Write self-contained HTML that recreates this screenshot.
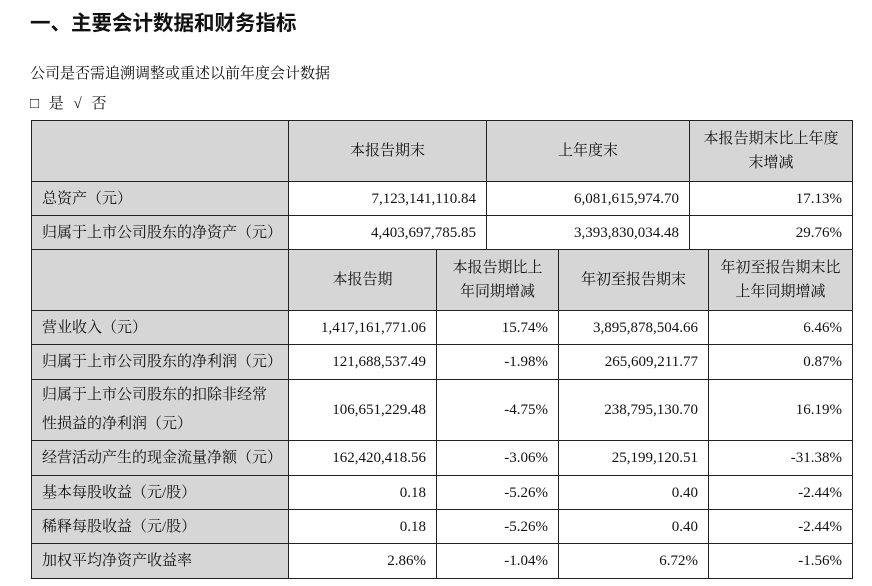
<!DOCTYPE html>
<html><head><meta charset="utf-8"><style>
body{margin:0;width:872px;height:586px;background:#fff;position:relative;overflow:hidden;font-family:"Liberation Serif","Noto Serif CJK SC",serif;color:#111}
.t{position:absolute;white-space:nowrap}
.c{position:absolute;box-sizing:border-box;border:1px solid #222;display:flex;align-items:center;font-size:15px;line-height:24px}
.g{background:#d6d6d6}
.l{padding-left:10px;justify-content:flex-start}
.m{justify-content:center;text-align:center}
.r{justify-content:flex-end;padding-right:10px}
</style></head><body>
<div class="t" style="left:30px;top:6px;font-size:20.5px;font-weight:bold;font-family:'Liberation Sans','Noto Sans CJK SC',sans-serif">一、主要会计数据和财务指标</div>
<div class="t" style="left:30px;top:62px;font-size:15px">公司是否需追溯调整或重述以前年度会计数据</div>
<div class="t" style="left:30px;top:92px;font-size:15px;word-spacing:6px">□ 是 √ 否</div>

<!-- table 1 -->
<div class="c g" style="left:31px;top:120px;width:258px;height:62px"></div>
<div class="c g m" style="left:288px;top:120px;width:199px;height:62px">本报告期末</div>
<div class="c g m" style="left:486px;top:120px;width:204px;height:62px">上年度末</div>
<div class="c g m" style="left:689px;top:120px;width:164px;height:62px">本报告期末比上年度<br>末增减</div>

<div class="c g l" style="left:31px;top:181px;width:258px;height:35px">总资产（元）</div>
<div class="c r" style="left:288px;top:181px;width:199px;height:35px">7,123,141,110.84</div>
<div class="c r" style="left:486px;top:181px;width:204px;height:35px">6,081,615,974.70</div>
<div class="c r" style="left:689px;top:181px;width:164px;height:35px">17.13%</div>

<div class="c g l" style="left:31px;top:215px;width:258px;height:35px">归属于上市公司股东的净资产（元）</div>
<div class="c r" style="left:288px;top:215px;width:199px;height:35px">4,403,697,785.85</div>
<div class="c r" style="left:486px;top:215px;width:204px;height:35px">3,393,830,034.48</div>
<div class="c r" style="left:689px;top:215px;width:164px;height:35px">29.76%</div>

<!-- table 2 header -->
<div class="c g" style="left:31px;top:249px;width:258px;height:62px"></div>
<div class="c g m" style="left:288px;top:249px;width:149px;height:62px">本报告期</div>
<div class="c g m" style="left:436px;top:249px;width:123px;height:62px">本报告期比上<br>年同期增减</div>
<div class="c g m" style="left:558px;top:249px;width:151px;height:62px">年初至报告期末</div>
<div class="c g m" style="left:708px;top:249px;width:145px;height:62px">年初至报告期末比<br>上年同期增减</div>

<!-- rows -->
<div class="c g l" style="left:31px;top:310px;width:258px;height:35px">营业收入（元）</div>
<div class="c r" style="left:288px;top:310px;width:149px;height:35px">1,417,161,771.06</div>
<div class="c r" style="left:436px;top:310px;width:123px;height:35px">15.74%</div>
<div class="c r" style="left:558px;top:310px;width:151px;height:35px">3,895,878,504.66</div>
<div class="c r" style="left:708px;top:310px;width:145px;height:35px">6.46%</div>

<div class="c g l" style="left:31px;top:344px;width:258px;height:36px">归属于上市公司股东的净利润（元）</div>
<div class="c r" style="left:288px;top:344px;width:149px;height:36px">121,688,537.49</div>
<div class="c r" style="left:436px;top:344px;width:123px;height:36px">-1.98%</div>
<div class="c r" style="left:558px;top:344px;width:151px;height:36px">265,609,211.77</div>
<div class="c r" style="left:708px;top:344px;width:145px;height:36px">0.87%</div>

<div class="c g l" style="left:31px;top:379px;width:258px;height:62px;line-height:29px">归属于上市公司股东的扣除非经常<br>性损益的净利润（元）</div>
<div class="c r" style="left:288px;top:379px;width:149px;height:62px">106,651,229.48</div>
<div class="c r" style="left:436px;top:379px;width:123px;height:62px">-4.75%</div>
<div class="c r" style="left:558px;top:379px;width:151px;height:62px">238,795,130.70</div>
<div class="c r" style="left:708px;top:379px;width:145px;height:62px">16.19%</div>

<div class="c g l" style="left:31px;top:440px;width:258px;height:36px">经营活动产生的现金流量净额（元）</div>
<div class="c r" style="left:288px;top:440px;width:149px;height:36px">162,420,418.56</div>
<div class="c r" style="left:436px;top:440px;width:123px;height:36px">-3.06%</div>
<div class="c r" style="left:558px;top:440px;width:151px;height:36px">25,199,120.51</div>
<div class="c r" style="left:708px;top:440px;width:145px;height:36px">-31.38%</div>

<div class="c g l" style="left:31px;top:475px;width:258px;height:35px">基本每股收益（元/股）</div>
<div class="c r" style="left:288px;top:475px;width:149px;height:35px">0.18</div>
<div class="c r" style="left:436px;top:475px;width:123px;height:35px">-5.26%</div>
<div class="c r" style="left:558px;top:475px;width:151px;height:35px">0.40</div>
<div class="c r" style="left:708px;top:475px;width:145px;height:35px">-2.44%</div>

<div class="c g l" style="left:31px;top:509px;width:258px;height:35px">稀释每股收益（元/股）</div>
<div class="c r" style="left:288px;top:509px;width:149px;height:35px">0.18</div>
<div class="c r" style="left:436px;top:509px;width:123px;height:35px">-5.26%</div>
<div class="c r" style="left:558px;top:509px;width:151px;height:35px">0.40</div>
<div class="c r" style="left:708px;top:509px;width:145px;height:35px">-2.44%</div>

<div class="c g l" style="left:31px;top:543px;width:258px;height:36px">加权平均净资产收益率</div>
<div class="c r" style="left:288px;top:543px;width:149px;height:36px">2.86%</div>
<div class="c r" style="left:436px;top:543px;width:123px;height:36px">-1.04%</div>
<div class="c r" style="left:558px;top:543px;width:151px;height:36px">6.72%</div>
<div class="c r" style="left:708px;top:543px;width:145px;height:36px">-1.56%</div>
</body></html>
